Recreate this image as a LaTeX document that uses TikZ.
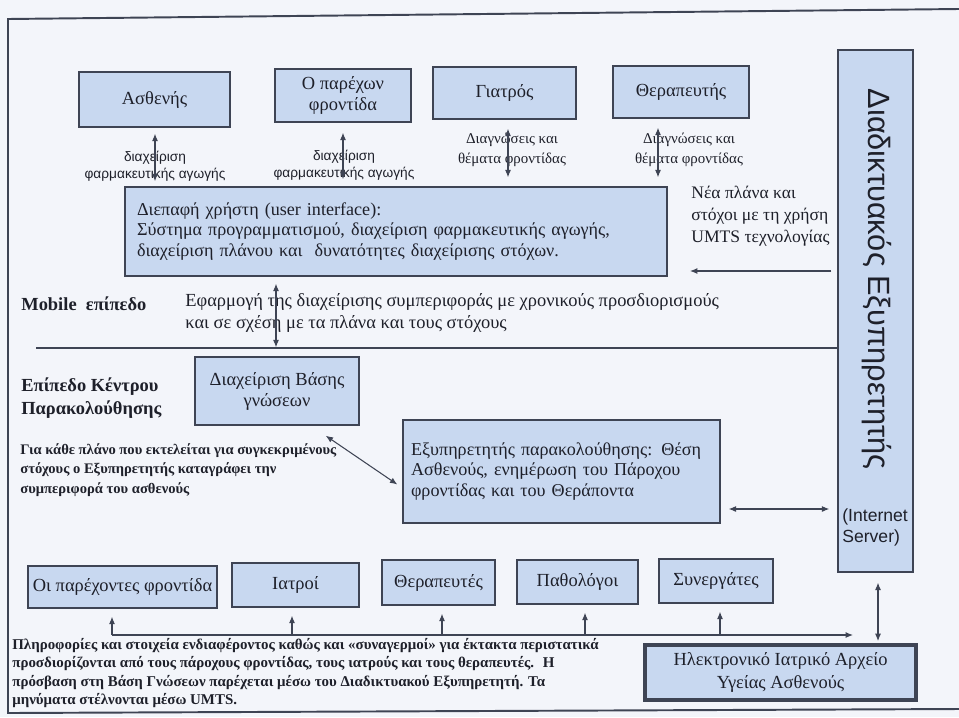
\documentclass[tikz,border=0pt]{standalone}
\usepackage{fontspec}
\setmainfont{Liberation Serif}
\setsansfont{Liberation Sans}
\usetikzlibrary{arrows.meta,calc}
\definecolor{boxblue}{RGB}{200,216,240}
\definecolor{edge}{RGB}{62,68,84}
\definecolor{paper}{RGB}{243,245,250}
\definecolor{ink}{RGB}{30,32,42}

\begin{document}
\begin{tikzpicture}[x=0.02cm, y=-0.02cm,
	box/.style={draw=edge, line width=0.8pt, fill=boxblue, text=ink, align=center, inner sep=2pt,
		font=\fontsize{10.5}{12}\selectfont},
	lbl/.style={text=ink, inner sep=0pt},
	dbl/.style={{Latex[length=4.2pt,width=3.4pt]}-{Latex[length=4.2pt,width=3.4pt]}, draw=edge, line width=0.6pt},
	sgl/.style={-{Latex[length=4.2pt,width=3.4pt]}, draw=edge, line width=0.6pt}]
	\useasboundingbox (0,0) rectangle (959,717);
	\fill[paper] (0,0) rectangle (959,717);
	\draw[edge, line width=1.1pt] (959,9) -- (8,19) -- (8,713) -- (959,709);
	
	% top row
	\node[box, minimum width=3.02cm, minimum height=1.10cm] (asth) at (154.5,99.5) {Ασθενής};
	\node[box, minimum width=2.72cm, minimum height=1.06cm] (parexon) at (343,95.5) {Ο παρέχων\\φροντίδα};
	\node[box, minimum width=2.86cm, minimum height=1.04cm] (giatros) at (504.5,93) {Γιατρός};
	\node[box, minimum width=2.72cm, minimum height=1.04cm] (therap) at (681,92) {Θεραπευτής};
	\node[box, minimum width=1.50cm, minimum height=10.44cm] (server) at (875.5,311) {};
	\node[lbl, rotate=-90, font=\sffamily\fontsize{17.5}{19}\selectfont] (servername) at (877,279) {Διαδικτυακός Εξυπηρετητής};
	\node[lbl, anchor=west, align=left, font=\sffamily\fontsize{10}{12}\selectfont] (internet) at (842,527.5) {(Internet\\Server)};
	
	\node[box, minimum width=10.84cm, minimum height=1.78cm, text width=10.36cm, inner xsep=0.24cm, align=left,
		font=\fontsize{10.3}{11.8}\selectfont] (ui) at (396,231.5)
		{Διεπαφή χρήστη (user interface):\\Σύστημα προγραμματισμού, διαχείριση φαρμακευτικής αγωγής,\\διαχείριση πλάνου και \ δυνατότητες διαχείρισης στόχων.};
	
	\node[lbl, align=center, font=\sffamily\fontsize{7.8}{9.8}\selectfont] (lblasth) at (155,166) {διαχείριση\\φαρμακευτικής αγωγής};
	\node[lbl, align=center, font=\sffamily\fontsize{7.8}{9.8}\selectfont] (lblparexon) at (344,165) {διαχείριση\\φαρμακευτικής αγωγής};
	\node[lbl, align=center, font=\fontsize{8.5}{11.2}\selectfont] (lblgiatros) at (512,150) {Διαγνώσεις και\\θέματα φροντίδας};
	\node[lbl, align=center, font=\fontsize{8.5}{11.2}\selectfont] (lbltherap) at (689,150) {Διαγνώσεις και\\θέματα φροντίδας};
	\node[lbl, anchor=west, align=left, font=\fontsize{10}{12.4}\selectfont] (nea) at (691,216) {Νέα πλάνα και\\στόχοι με τη χρήση\\UMTS τεχνολογίας};
	\coordinate (neatip) at (690,271);
	
	% mobile level
	\node[lbl, anchor=west, font=\bfseries\fontsize{10.5}{12}\selectfont] (mobile) at (21,304) {Mobile \ επίπεδο};
	\node[lbl, anchor=west, align=left, font=\fontsize{10.5}{12.4}\selectfont] (efarmogi) at (185,313)
		{Εφαρμογή της διαχείρισης συμπεριφοράς με χρονικούς προσδιορισμούς\\και σε σχέση με τα πλάνα και τους στόχους};
	\coordinate (sepL) at (36,348);
	
	% monitoring centre level
	\node[lbl, anchor=west, align=left, font=\bfseries\fontsize{10.5}{13}\selectfont] (kentro) at (21,398.5) {Επίπεδο Κέντρου\\Παρακολούθησης};
	\node[box, minimum width=3.28cm, minimum height=1.36cm] (vasi) at (277,391) {Διαχείριση Βάσης\\γνώσεων};
	\node[box, minimum width=6.34cm, minimum height=2.06cm, text width=6.02cm, inner xsep=0.16cm, align=left,
		font=\fontsize{10.3}{11.6}\selectfont] (monitor) at (561.5,471.5)
		{Εξυπηρετητής παρακολούθησης: Θέση\\Ασθενούς, ενημέρωση του Πάροχου\\φροντίδας και του Θεράποντα};
	\node[lbl, anchor=west, align=left, font=\bfseries\fontsize{8.3}{11.2}\selectfont] (giakathe) at (20,470)
		{Για κάθε πλάνο που εκτελείται για συγκεκριμένους\\στόχους ο Εξυπηρετητής καταγράφει την\\συμπεριφορά του ασθενούς};
	
	% bottom row
	\node[box, minimum width=3.78cm, minimum height=0.84cm] (paroxoi) at (122.5,587) {Οι παρέχοντες φροντίδα};
	\node[box, minimum width=2.54cm, minimum height=0.88cm] (iatroi) at (295.5,585) {Ιατροί};
	\node[box, minimum width=2.26cm, minimum height=0.90cm] (therapeutes) at (438.5,582.5) {Θεραπευτές};
	\node[box, minimum width=2.42cm, minimum height=0.88cm] (patholog) at (577.5,582) {Παθολόγοι};
	\node[box, minimum width=2.28cm, minimum height=0.88cm] (synerg) at (716,581) {Συνεργάτες};
	\node[box, line width=2.2pt, minimum width=5.42cm, minimum height=1.10cm, font=\fontsize{10.5}{12.8}\selectfont] (ehr) at (780.5,672.5)
		{Ηλεκτρονικό Ιατρικό Αρχείο\\Υγείας Ασθενούς};
	\node[lbl, anchor=west, align=left, font=\bfseries\fontsize{8.5}{10.4}\selectfont] (plirofories) at (12,673)
		{Πληροφορίες και στοιχεία ενδιαφέροντος καθώς και «συναγερμοί» για έκτακτα περιστατικά\\
		προσδιορίζονται από τους πάροχους φροντίδας, τους ιατρούς και τους θεραπευτές. \ Η\\
		πρόσβαση στη Βάση Γνώσεων παρέχεται μέσω του Διαδικτυακού Εξυπηρετητή. Τα\\
		μηνύματα στέλνονται μέσω UMTS.};
	\coordinate (busL) at (112,635);
	\coordinate (busR) at (853,635);
	
	% connectors
	\draw[dbl, shorten <=0.12cm, shorten >=0.1cm] (155,0 |- asth.south) -- (155,0 |- ui.north);
	\draw[dbl, shorten <=0.2cm, shorten >=0.14cm] (343,0 |- parexon.south) -- (343,0 |- ui.north);
	\draw[dbl, shorten <=0.18cm, shorten >=0.18cm] (508,0 |- giatros.south) -- (508,0 |- ui.north);
	\draw[dbl, shorten <=0.18cm, shorten >=0.18cm] (658,0 |- therap.south) -- (658,0 |- ui.north);
	\draw[sgl, shorten <=0.12cm] (server.west |- neatip) -- (neatip);
	\draw[dbl, shorten <=0.14cm, shorten >=0.18cm] (276,0 |- ui.south) -- (276,0 |- vasi.north);
	\draw[edge, line width=0.8pt] (sepL) -- (server.west |- sepL);
	\draw[dbl] ($(vasi.south east)+(-34,10)$) -- ($(monitor.west)+(-5,13)$);
	\draw[dbl, shorten <=0.16cm, shorten >=0.16cm] (monitor.east |- 0,509) -- (server.west |- 0,509);
	\draw[sgl] (busL) -- (busR);
	\foreach \bx/\bn in {112/paroxoi, 292/iatroi, 442/therapeutes, 585/patholog, 720/synerg}
		\draw[sgl, shorten >=0.16cm] (\bx,635) -- (\bx,0 |- \bn.south);
	\draw[dbl, shorten <=0.2cm, shorten >=0.04cm] (878,0 |- server.south) -- (878,0 |- ehr.north);
\end{tikzpicture}
\end{document}
